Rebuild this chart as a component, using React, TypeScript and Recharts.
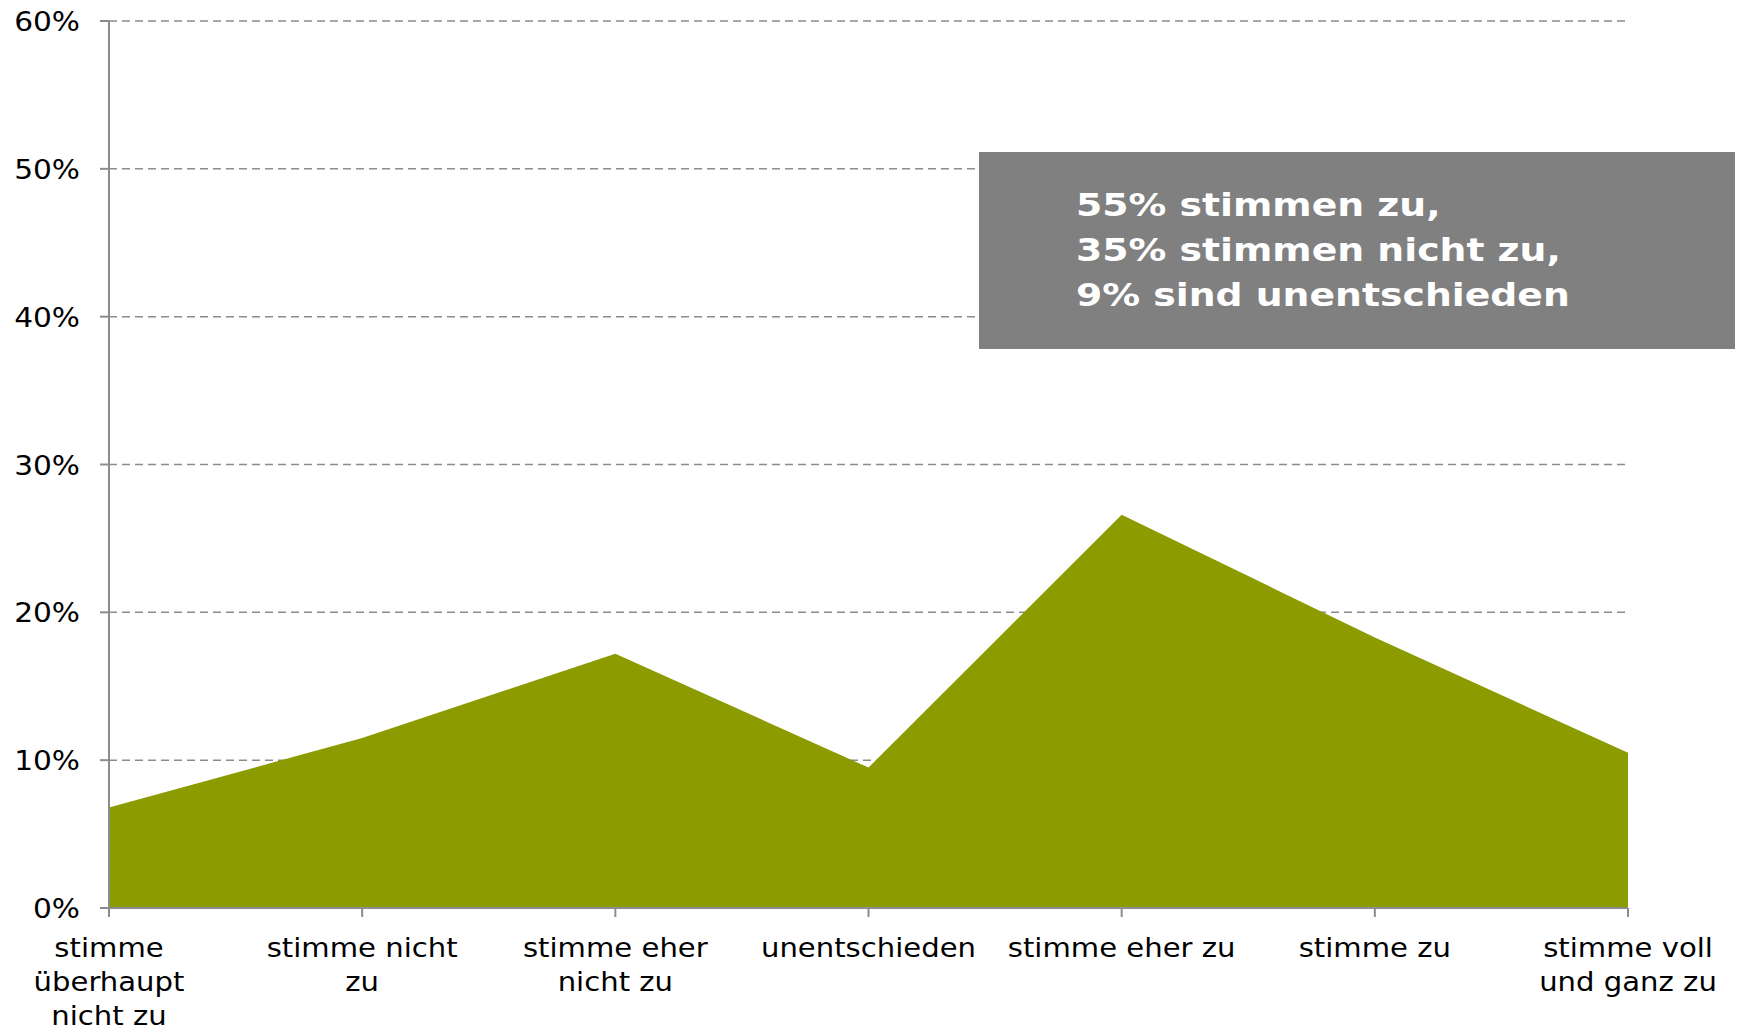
import { AreaChart, Area, XAxis, YAxis, CartesianGrid } from "recharts"

const categories = [
  "stimme\nüberhaupt\nnicht zu",
  "stimme nicht\nzu",
  "stimme eher\nnicht zu",
  "unentschieden",
  "stimme eher zu",
  "stimme zu",
  "stimme voll\nund ganz zu",
]
const shares = [6.8, 11.5, 17.2, 9.5, 26.6, 18.3, 10.5]
const yTicks = [0, 10, 20, 30, 40, 50, 60]
const summaryLines = ["55% stimmen zu,", "35% stimmen nicht zu,", "9% sind unentschieden"]

const data = categories.map((name, i) => ({ name, value: shares[i] }))

const axisGray = "#8c8c8c"
const font = "'DejaVu Sans', Verdana, sans-serif"

function XTick(props: any) {
  const { x, y, payload } = props
  const lines = String(payload.value).split("\n")
  return (
    <g transform={`translate(${x},${y}) scale(1.12,1)`}>
      <text textAnchor="middle" fontFamily={font} fontSize={26} fill="#000">
        {lines.map((line, i) => (
          <tspan key={i} x={0} y={40 + i * 34}>
            {line}
          </tspan>
        ))}
      </text>
    </g>
  )
}

function YTick(props: any) {
  const { x, y, payload } = props
  return (
    <g transform={`translate(${x},${y}) scale(1.14,1)`}>
      <text x={0} y={10} textAnchor="end" fontFamily={font} fontSize={26} fill="#000">
        {`${payload.value}%`}
      </text>
    </g>
  )
}

export default function App() {
  return (
    <div style={{ position: "absolute", left: 0, top: 0, width: 1737, height: 1032, background: "#fff" }}>
      <AreaChart width={1737} height={1032} data={data} margin={{ top: 21, right: 109, bottom: 0, left: 0 }}>
        <CartesianGrid vertical={false} stroke={axisGray} strokeWidth={1.5} strokeDasharray="8 5" />
        <XAxis
          dataKey="name"
          height={124}
          interval={0}
          tickSize={9}
          tickMargin={0}
          stroke={axisGray}
          strokeWidth={2}
          tick={<XTick />}
        />
        <YAxis
          domain={[0, 60]}
          ticks={yTicks}
          width={109}
          tickSize={9}
          tickMargin={20}
          stroke={axisGray}
          strokeWidth={2}
          tick={<YTick />}
        />
        <Area
          type="linear"
          dataKey="value"
          stroke="none"
          fill="#8b9b00"
          fillOpacity={1}
          isAnimationActive={false}
        />
      </AreaChart>
      <div
        style={{
          position: "absolute",
          left: 979,
          top: 152,
          width: 756,
          height: 197,
          background: "#808080",
        }}
      >
        <div
          style={{
            position: "absolute",
            left: 97,
            top: 31,
            transform: "scaleX(1.18)",
            transformOrigin: "left top",
            fontFamily: font,
            fontWeight: "bold",
            fontSize: 32,
            lineHeight: "45px",
            color: "#fff",
            whiteSpace: "nowrap",
          }}
        >
          {summaryLines.map((l) => (
            <div key={l}>{l}</div>
          ))}
        </div>
      </div>
    </div>
  )
}
